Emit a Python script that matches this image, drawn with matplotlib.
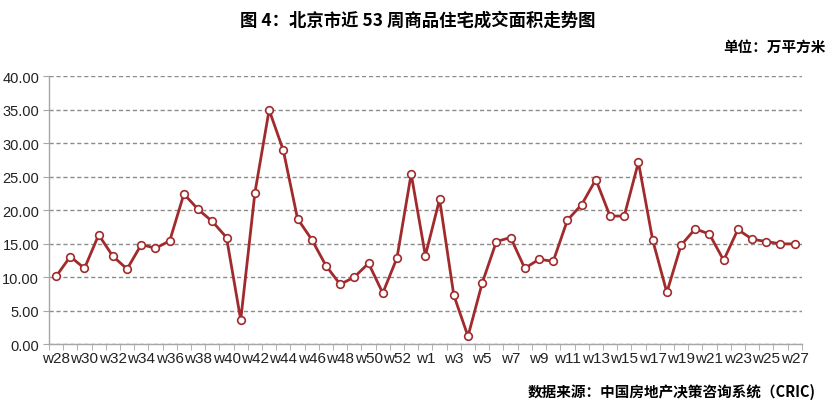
import numpy as np
import matplotlib
matplotlib.use("Agg")
import matplotlib.pyplot as plt
from matplotlib.ticker import FormatStrFormatter, FixedLocator

plt.rcParams['font.family'] = ['Liberation Sans', 'Noto Sans CJK SC', 'DejaVu Sans']

# Weekly data: w28..w53, then w1..w27
weeks = [f"w{i}" for i in range(28, 54)] + [f"w{i}" for i in range(1, 28)]
area = [10.1, 13.05, 11.3, 16.3, 13.1, 11.2, 14.85, 14.3, 15.4, 22.4,
        20.1, 18.3, 15.9, 3.6, 22.6, 34.95, 28.9, 18.7, 15.6, 11.7,
        8.9, 10.0, 12.05, 7.6, 12.85, 25.4,
        13.2, 21.6, 7.3, 1.15, 9.1, 15.3, 15.9, 11.3, 12.65, 12.35,
        18.5, 20.8, 24.55, 19.1, 19.1, 27.15, 15.55, 7.7, 14.75, 17.2,
        16.4, 12.5, 17.1, 15.65, 15.3, 14.95, 14.95]

title = "图 4：北京市近 53 周商品住宅成交面积走势图"
unit_text = "单位：万平方米"
source_text = "数据来源：中国房地产决策咨询系统（CRIC)"

line_color = "#A02A2C"
grid_color = "#8C8C8C"
axis_color = "#A6A6A6"

fig = plt.figure(figsize=(8.3, 4.1), dpi=100)
ax = fig.add_axes([0.059, 0.1585, 0.907, 0.6535])

x = np.arange(len(weeks))
ax.plot(x, area, color=line_color, lw=2.0, marker='o', markersize=5.5,
        markerfacecolor='white', markeredgecolor=line_color, markeredgewidth=1.2,
        zorder=3)

ax.set_xlim(-0.5, len(weeks) - 0.5)
ax.set_ylim(0, 40)
ax.set_yticks(np.arange(0, 41, 5))
ax.yaxis.set_major_formatter(FormatStrFormatter('%.2f'))

# labels every other week, tick marks on category boundaries
ax.set_xticks(x[::2])
ax.set_xticklabels(weeks[::2])
ax.xaxis.set_minor_locator(FixedLocator(np.arange(-0.5, len(weeks), 1.0)))
ax.tick_params(axis='x', which='major', length=0, pad=5, labelsize=11, colors='#222222')
ax.tick_params(axis='x', which='minor', length=4, color=axis_color, direction='out')
ax.tick_params(axis='y', length=4, color=axis_color, labelsize=10.5, pad=3)
for lbl in ax.get_yticklabels():
    lbl.set_color('#222222')

ax.grid(axis='y', linestyle=(0, (3, 2)), color=grid_color, lw=1.0)
ax.set_axisbelow(True)
for side in ['top', 'right']:
    ax.spines[side].set_visible(False)
for side in ['left', 'bottom']:
    ax.spines[side].set_color(axis_color)
    ax.spines[side].set_linewidth(1.0)

fig.text(0.503, 0.95, title, ha='center', va='center', fontsize=12.5,
         fontweight='bold', family=['Noto Sans CJK SC', 'DejaVu Sans'])
fig.text(0.995, 0.885, unit_text, ha='right', va='center', fontsize=10.5,
         fontweight='bold', family=['Noto Sans CJK SC', 'DejaVu Sans'])
fig.text(0.983, 0.043, source_text, ha='right', va='center', fontsize=10.5,
         fontweight='bold', family=['Noto Sans CJK SC', 'DejaVu Sans'])

fig.savefig("out.png", dpi=100)
